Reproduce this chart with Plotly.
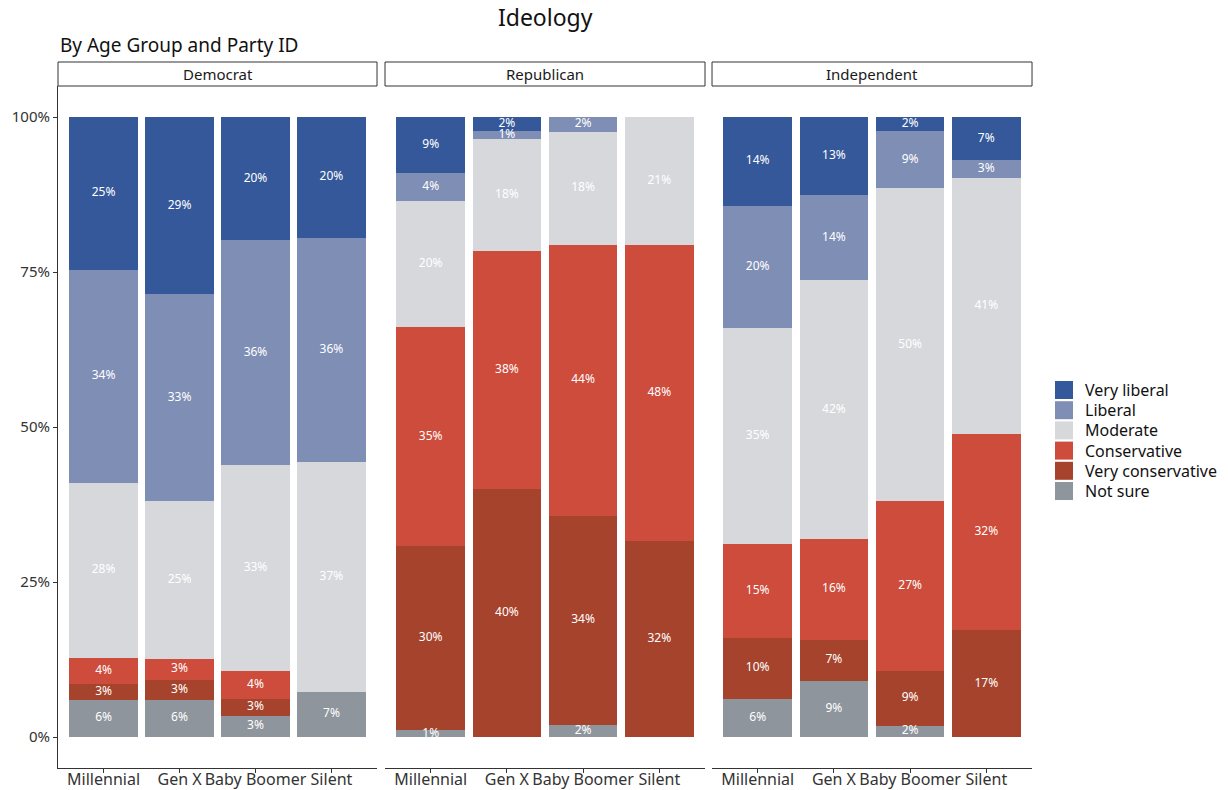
import plotly.graph_objects as go

parties = ["Democrat", "Republican", "Independent"]
ages = ["Millennial", "Gen X", "Baby Boomer", "Silent"]
ideologies = ["Not sure", "Very conservative", "Conservative", "Moderate", "Liberal", "Very liberal"]
colors = {
    "Very liberal": "#35589a",
    "Liberal": "#7f8eb5",
    "Moderate": "#d7d8dc",
    "Conservative": "#cd4c3b",
    "Very conservative": "#a6432d",
    "Not sure": "#8e959c",
}

# percent values per party, per ideology, for [Millennial, Gen X, Baby Boomer, Silent]
democrat = {
    "Not sure": [6.0, 6.0, 3.4, 7.3],
    "Very conservative": [2.6, 3.2, 2.8, 0.0],
    "Conservative": [4.2, 3.4, 4.4, 0.0],
    "Moderate": [28.2, 25.4, 33.2, 37.1],
    "Liberal": [34.4, 33.4, 36.3, 36.1],
    "Very liberal": [24.6, 28.6, 19.9, 19.5],
}
republican = {
    "Not sure": [1.1, 0.0, 1.9, 0.0],
    "Very conservative": [29.7, 40.0, 33.8, 31.6],
    "Conservative": [35.3, 38.4, 43.7, 47.8],
    "Moderate": [20.4, 18.0, 18.2, 20.6],
    "Liberal": [4.4, 1.4, 2.4, 0.0],
    "Very liberal": [9.1, 2.2, 0.0, 0.0],
}
independent = {
    "Not sure": [6.2, 9.1, 1.8, 0.0],
    "Very conservative": [9.7, 6.6, 8.9, 17.2],
    "Conservative": [15.2, 16.2, 27.4, 31.7],
    "Moderate": [34.9, 41.8, 50.4, 41.2],
    "Liberal": [19.7, 13.7, 9.2, 2.9],
    "Very liberal": [14.3, 12.6, 2.3, 7.0],
}
data = {"Democrat": democrat, "Republican": republican, "Independent": independent}

ytick_vals = [0, 25, 50, 75, 100]
ytick_text = ["0%", "25%", "50%", "75%", "100%"]

FONT = "Noto Sans"
W, H = 1228, 790
ML, MR, MT, MB = 58, 195, 86, 22
PW, PH = W - ML - MR, H - MT - MB


def px_x(px):
    return (px - ML) / PW


def px_y(py):
    return (H - MB - py) / PH


fig = go.Figure()

domains = [[0.0, 0.3272], [0.3354, 0.6636], [0.6708, 0.999]]

for i, party in enumerate(parties):
    xa = "x" if i == 0 else f"x{i+1}"
    ya = "y" if i == 0 else f"y{i+1}"
    vals = data[party]
    cum = [0.0] * len(ages)
    tx, ty, tt = [], [], []
    for ideo in ideologies:
        v = vals[ideo]
        fig.add_trace(go.Bar(
            x=ages, y=v, name=ideo, marker=dict(color=colors[ideo], line=dict(width=0)),
            xaxis=xa, yaxis=ya, showlegend=False, legendgroup=ideo,
            hovertemplate=f"{party} %{{x}}<br>{ideo}: %{{y:.0f}}%<extra></extra>",
        ))
        for j, a in enumerate(ages):
            if v[j] > 0:
                tx.append(a)
                ty.append(cum[j] + v[j] / 2)
                tt.append(f"{round(v[j])}%")
            cum[j] += v[j]
    fig.add_trace(go.Scatter(
        x=tx, y=ty, text=tt, mode="text", xaxis=xa, yaxis=ya, showlegend=False,
        textfont=dict(color="white", size=12, family=FONT), hoverinfo="skip", cliponaxis=False,
    ))

    axkw = dict(
        domain=domains[i], type="category", categoryorder="array", categoryarray=ages,
        range=[-0.6, 3.6], showline=True, linecolor="#333333", linewidth=1,
        ticks="outside", ticklen=4, tickcolor="#333333", showgrid=False, zeroline=False,
        tickfont=dict(size=16, color="#333333", family=FONT), automargin=False, fixedrange=True,
        ticklabelstandoff=-7,
    )
    yakw = dict(
        range=[-5, 105], tickvals=ytick_vals, ticktext=ytick_text, showgrid=False, zeroline=False,
        automargin=False, fixedrange=True, anchor=xa,
    )
    if i == 0:
        yakw.update(showline=True, linecolor="#333333", linewidth=1, ticks="outside", ticklen=4,
                    tickcolor="#333333", tickfont=dict(size=15, color="#333333", family=FONT))
    else:
        yakw.update(showline=False, showticklabels=False, ticks="")
        yakw["matches"] = "y"
    axkw["anchor"] = ya
    fig.update_layout(**{("xaxis" if i == 0 else f"xaxis{i+1}"): axkw,
                         ("yaxis" if i == 0 else f"yaxis{i+1}"): yakw})

    # facet strip
    fig.add_shape(type="rect", xref=f"{xa} domain", yref="paper", x0=0, x1=1, y0=1.0, y1=px_y(62),
                  line=dict(color="#333333", width=1), fillcolor="white", layer="above")
    fig.add_annotation(text=party, xref=f"{xa} domain", yref="paper", x=0.5, y=px_y(74),
                       showarrow=False, font=dict(size=15, color="#1a1a1a", family=FONT),
                       xanchor="center", yanchor="middle")

# manual legend (top to bottom)
legend_order = ["Very liberal", "Liberal", "Moderate", "Conservative", "Very conservative", "Not sure"]
for k, ideo in enumerate(legend_order):
    cy = 390 + k * 20.2
    fig.add_shape(type="rect", xref="paper", yref="paper",
                  x0=px_x(1055), x1=px_x(1073), y0=px_y(cy + 9), y1=px_y(cy - 9),
                  fillcolor=colors[ideo], line=dict(width=0))
    fig.add_annotation(text=ideo, xref="paper", yref="paper", x=px_x(1083), y=px_y(cy),
                       xanchor="left", yanchor="middle", showarrow=False,
                       font=dict(size=16, color="#111111", family=FONT))

fig.add_annotation(text="By Age Group and Party ID", xref="paper", yref="paper", x=0, y=px_y(45),
                   xanchor="left", yanchor="middle", showarrow=False,
                   font=dict(size=19, color="#111111", family=FONT))

fig.update_layout(
    width=W, height=H,
    barmode="stack", bargap=0.1,
    paper_bgcolor="white", plot_bgcolor="white",
    margin=dict(l=ML, r=MR, t=MT, b=MB, autoexpand=False),
    title=dict(text="Ideology", x=0.444, xanchor="center", y=0.977, yanchor="middle",
               font=dict(size=23, color="#111111", family=FONT)),
    showlegend=False,
    font=dict(family=FONT),
)

fig.write_html("out.html", config={"displayModeBar": False},
               post_script="document.body.style.margin='0';document.body.style.overflow='hidden';")
